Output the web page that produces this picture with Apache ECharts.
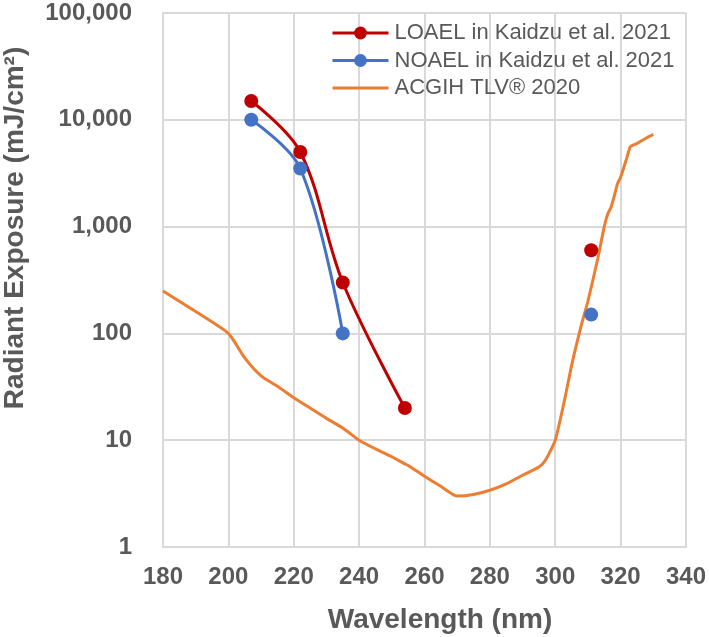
<!DOCTYPE html>
<html>
<head>
<meta charset="utf-8">
<script src="https://cdn.jsdelivr.net/npm/echarts@6/dist/echarts.min.js"></script>
<style>
html,body{margin:0;padding:0;background:#fff;}
#chart{width:709px;height:637px;}
</style>
</head>
<body>
<div id="chart"></div>
<script>
// Data
const loaelWavelength = [207, 222, 235, 254, null, 311];
const loaelExposure   = [15000, 5000, 300, 20, null, 600];
const noaelWavelength = [207, 222, 235, null, 311];
const noaelExposure   = [10000, 3500, 100, null, 150];
const tlvWavelength = [180, 190, 200, 205, 210, 215, 220, 225, 230, 235, 240, 245, 250, 254, 255, 260, 265, 270, 275, 280, 285, 290, 295, 297, 300, 303, 305, 308, 310, 313, 315, 316, 317, 318, 319, 320, 322, 323, 325, 328, 330];
const tlvExposure   = [250, 160, 100, 59, 40, 32, 25, 20, 16, 13, 10, 8.3, 7.0, 6.0, 5.8, 4.6, 3.7, 3.0, 3.1, 3.4, 3.9, 4.7, 5.6, 6.5, 10, 25, 50, 120, 200, 500, 1000, 1300, 1500, 1900, 2500, 2900, 4500, 5600, 6000, 6800, 7300];
const seriesNames = ['LOAEL in Kaidzu et al. 2021', 'NOAEL in Kaidzu et al. 2021', 'ACGIH TLV® 2020'];
const xTitle = 'Wavelength (nm)';
const yTitle = 'Radiant Exposure (mJ/cm²)';

function pairs(xs, ys) {
  return xs.map((x, i) => (x === null || ys[i] === null) ? ['-', '-'] : [x, ys[i]]);
}

const FONT = '"Liberation Sans", Arial, sans-serif';
const TXT = '#595959';
const GRID = '#d9d9d9';

const chart = echarts.init(document.getElementById('chart'), null, {renderer: 'canvas'});
chart.setOption({
  animation: false,
  backgroundColor: '#ffffff',
  grid: {left: 163, right: 21, top: 13, bottom: 90, containLabel: false},
  legend: {
    orient: 'vertical',
    left: 331,
    top: 22,
    padding: 0,
    itemWidth: 56,
    itemHeight: 16,
    itemGap: 5.5,
    lineStyle: {width: 3},
    data: [
      {name: seriesNames[0]},
      {name: seriesNames[1]},
      {name: seriesNames[2], itemStyle: {opacity: 0}}
    ],
    textStyle: {fontFamily: FONT, fontSize: 22, color: TXT, lineHeight: 22, padding: [0,0,0,1]}
  },
  xAxis: {
    type: 'value', min: 180, max: 340, interval: 20,
    axisLine: {show: true, lineStyle: {color: GRID, width: 2}},
    axisTick: {show: false},
    splitLine: {show: true, lineStyle: {color: GRID, width: 2}},
    axisLabel: {fontFamily: FONT, fontSize: 24, fontWeight: 'bold', color: TXT, margin: 18}
  },
  yAxis: {
    type: 'log', logBase: 10, min: 1, max: 100000,
    axisLine: {show: true, lineStyle: {color: GRID, width: 2}},
    axisTick: {show: false},
    splitLine: {show: true, lineStyle: {color: GRID, width: 2}},
    axisLabel: {fontFamily: FONT, fontSize: 24, fontWeight: 'bold', color: TXT, margin: 31,
      formatter: v => Math.round(v).toLocaleString('en-US')}
  },
  graphic: [
    {type: 'text', x: 440, y: 620, style: {text: xTitle, font: 'bold 28px ' + FONT, fill: TXT, textAlign: 'center', textVerticalAlign: 'middle'}},
    {type: 'text', x: 15, y: 228, rotation: Math.PI / 2, style: {text: yTitle, font: 'bold 28px ' + FONT, fill: TXT, textAlign: 'center', textVerticalAlign: 'middle'}}
  ],
  series: [
    {
      name: seriesNames[0], type: 'line', data: pairs(loaelWavelength, loaelExposure),
      smooth: 0.35, connectNulls: false, symbol: 'circle', symbolSize: 14, showSymbol: true,
      lineStyle: {color: '#C00000', width: 3}, itemStyle: {color: '#C00000'}, z: 3
    },
    {
      name: seriesNames[1], type: 'line', data: pairs(noaelWavelength, noaelExposure),
      smooth: 0.35, connectNulls: false, symbol: 'circle', symbolSize: 14, showSymbol: true,
      lineStyle: {color: '#4472C4', width: 3}, itemStyle: {color: '#4472C4'}, z: 3
    },
    {
      name: seriesNames[2], type: 'line', data: pairs(tlvWavelength, tlvExposure),
      smooth: 0.2, symbol: 'circle', showSymbol: false,
      lineStyle: {color: '#ED7D31', width: 3}, itemStyle: {color: '#ED7D31'}, z: 2
    }
  ]
});
</script>
</body>
</html>
